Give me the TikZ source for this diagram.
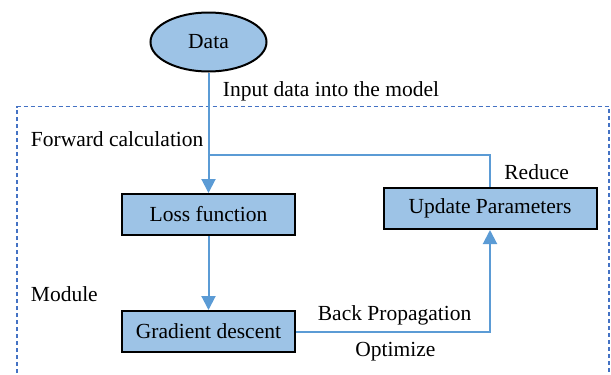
\documentclass[tikz,border=0pt]{standalone}
\usepackage{fontspec}
\setmainfont{Liberation Serif}
\usetikzlibrary{arrows.meta,shapes.geometric}
\definecolor{boxfill}{RGB}{157,195,230}
\definecolor{flowblue}{RGB}{91,155,213}
\definecolor{frameblue}{RGB}{68,114,196}

\tikzset{
  stage/.style={draw=black,line width=1pt,fill=boxfill,rectangle,
    minimum width=86.5pt,minimum height=20.5pt,inner sep=0pt},
  note/.style={anchor=base west,inner sep=0pt},
  flow/.style={draw=flowblue,line width=1pt},
  flowarrow/.style={flow,-{Triangle[length=7pt,width=7pt]}}
}

\begin{document}
\begin{tikzpicture}[x=0.5pt,y=-0.5pt,font=\fontsize{10.75}{13}\selectfont]
        \useasboundingbox (0,0) rectangle (611,375);
        % module frame, open at the bottom
        \draw[frameblue,line width=0.75pt,dash pattern=on 2pt off 1.5pt]
          (17,380) -- (17,106.5) -- (609,106.5) -- (609,380);

        \node[ellipse,draw=black,line width=1pt,fill=boxfill,minimum width=58pt,minimum height=29.5pt,inner sep=0pt] (data) at (208.5,42) {Data};
        \node[stage] (loss) at (208.5,214.5) {Loss function};
        \node[stage] (grad) at (208.5,331.5) {Gradient descent};
        \node[stage,minimum width=106.5pt] (update) at (490,208.5) {Update Parameters};
        \coordinate (merge) at (208.5,155);

        \node[note] (input) at (222.5,96.5) {Input data into the model};
        \node[note] (forward) at (30.5,146.5) {Forward calculation};
        \node[note] (reduce) at (504,179) {Reduce};
        \node[note] (module) at (30.5,301.5) {Module};
        \node[note] (backprop) at (317.5,320) {Back Propagation};
        \node[note] (optimize) at (355,356.5) {Optimize};

        \draw[flowarrow] (data) -- (loss);
        \draw[flowarrow] (loss) -- (grad);
        \draw[flow] (update.north) |- (merge);
        \draw[flowarrow] (grad.east) -| (update.south);
      \end{tikzpicture}
\end{document}
